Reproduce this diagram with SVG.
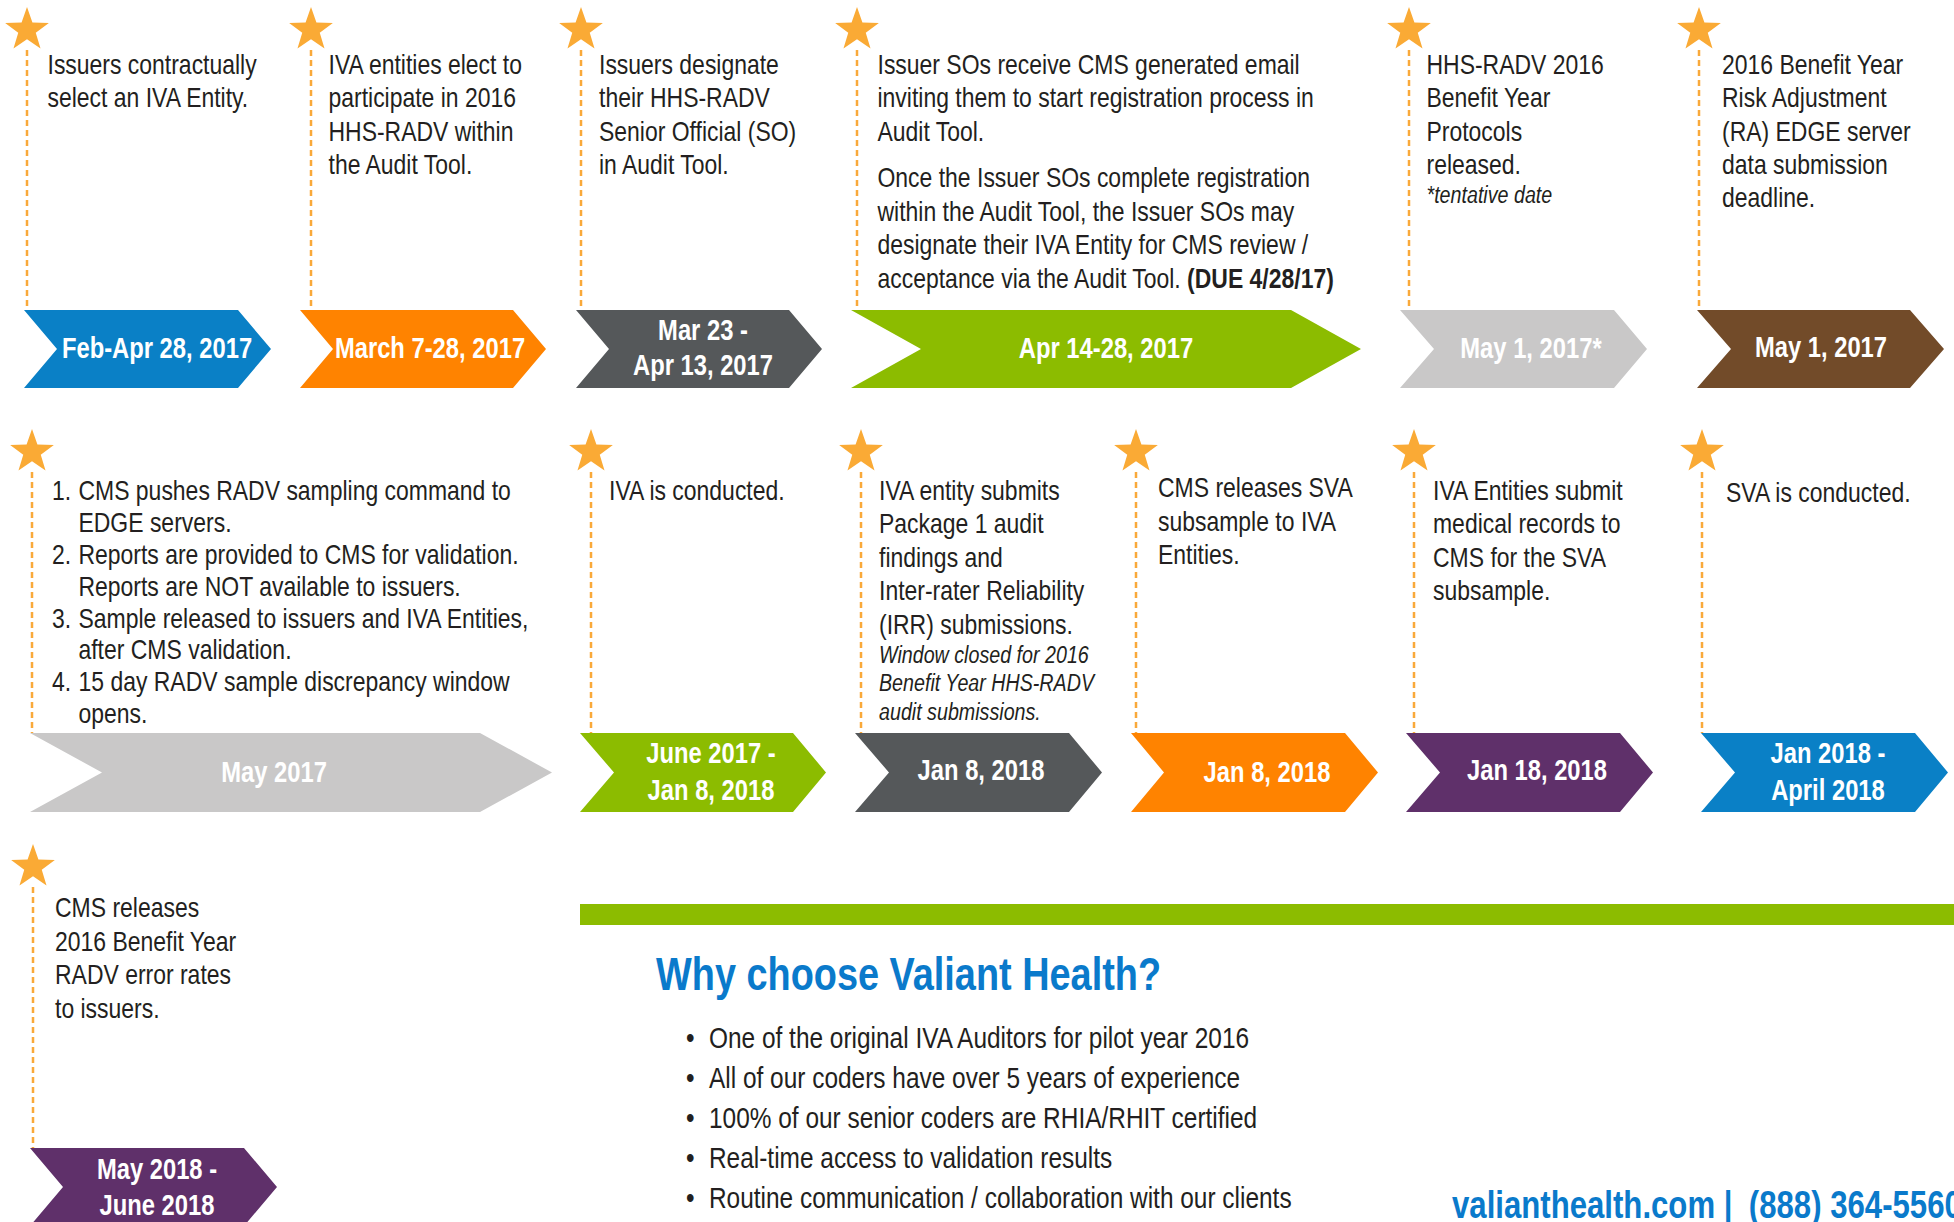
<svg xmlns="http://www.w3.org/2000/svg" xmlns:xlink="http://www.w3.org/1999/xlink" width="1954" height="1222" viewBox="0 0 1954 1222">
<defs>
<style>
.t{font-family:"Liberation Sans",Arial,sans-serif;font-size:28px;fill:#231F20}
.it{font-style:italic;font-size:24px}
.b{font-weight:bold}
.bul{font-size:29.8px}
.lbl{font-family:"Liberation Sans",Arial,sans-serif;font-weight:bold;font-size:29px;fill:#FFFFFF;text-anchor:middle}
.dash{stroke:#F9A93A;stroke-width:2.5;stroke-dasharray:6 4;fill:none}
.star{fill:#FAAA35}
.blue{fill:#0A80C6}.orange{fill:#FF8300}.gray{fill:#55585A}.green{fill:#8CBC00}.lgray{fill:#C9C8C8}.brown{fill:#724B29}.purple{fill:#5F306A}
.h{font-family:"Liberation Sans",Arial,sans-serif;font-weight:bold;fill:#0A7ACB}
</style>
<path id="star" d="M0,-23 L5.41,-7.44 L21.87,-7.11 L8.75,2.84 L13.52,18.61 L0,9.2 L-13.52,18.61 L-8.75,2.84 L-21.87,-7.11 L-5.41,-7.44 Z"/>
</defs>
<rect width="1954" height="1222" fill="#FFFFFF"/>

<g id="connectors">
<line class="dash" x1="27" y1="50" x2="27" y2="310"/>
<line class="dash" x1="311" y1="50" x2="311" y2="310"/>
<line class="dash" x1="581" y1="50" x2="581" y2="310"/>
<line class="dash" x1="857" y1="50" x2="857" y2="310"/>
<line class="dash" x1="1409" y1="50" x2="1409" y2="310"/>
<line class="dash" x1="1699" y1="50" x2="1699" y2="310"/>
<line class="dash" x1="32" y1="472" x2="32" y2="733"/>
<line class="dash" x1="591" y1="472" x2="591" y2="733"/>
<line class="dash" x1="861" y1="472" x2="861" y2="733"/>
<line class="dash" x1="1136" y1="472" x2="1136" y2="733"/>
<line class="dash" x1="1414" y1="472" x2="1414" y2="733"/>
<line class="dash" x1="1702" y1="472" x2="1702" y2="733"/>
<line class="dash" x1="33" y1="887" x2="33" y2="1148"/>
</g>

<g id="n1">
<use href="#star" class="star" x="27" y="30"/>
<g transform="translate(47.5 0) scale(0.82 1)"><text class="t"><tspan x="0" y="74">Issuers contractually</tspan><tspan x="0" y="107.3">select an IVA Entity.</tspan></text></g>
<polygon class="blue" points="24,310 238,310 271,349 238,388 24,388 57,349"/>
<g transform="translate(157 0) scale(0.82 1)"><text class="lbl" x="0" y="358">Feb-Apr 28, 2017</text></g>
</g>

<g id="n2">
<use href="#star" class="star" x="311" y="30"/>
<g transform="translate(328.5 0) scale(0.82 1)"><text class="t"><tspan x="0" y="74">IVA entities elect to</tspan><tspan x="0" y="107.3">participate in 2016</tspan><tspan x="0" y="140.6">HHS-RADV within</tspan><tspan x="0" y="174">the Audit Tool.</tspan></text></g>
<polygon class="orange" points="300,310 513,310 546,349 513,388 300,388 333,349"/>
<g transform="translate(430 0) scale(0.82 1)"><text class="lbl" x="0" y="358">March 7-28, 2017</text></g>
</g>

<g id="n3">
<use href="#star" class="star" x="581" y="30"/>
<g transform="translate(599 0) scale(0.82 1)"><text class="t"><tspan x="0" y="74">Issuers designate</tspan><tspan x="0" y="107.3">their HHS-RADV</tspan><tspan x="0" y="140.6">Senior Official (SO)</tspan><tspan x="0" y="174">in Audit Tool.</tspan></text></g>
<polygon class="gray" points="576,310 789,310 822,349 789,388 576,388 609,349"/>
<g transform="translate(703 0) scale(0.82 1)"><text class="lbl"><tspan x="0" y="340">Mar 23 -</tspan><tspan x="0" y="375">Apr 13, 2017</tspan></text></g>
</g>

<g id="n4">
<use href="#star" class="star" x="857" y="30"/>
<g transform="translate(877.5 0) scale(0.82 1)"><text class="t"><tspan x="0" y="74">Issuer SOs receive CMS generated email</tspan><tspan x="0" y="107.3">inviting them to start registration process in</tspan><tspan x="0" y="140.6">Audit Tool.</tspan><tspan x="0" y="187">Once the Issuer SOs complete registration</tspan><tspan x="0" y="221">within the Audit Tool, the Issuer SOs may</tspan><tspan x="0" y="254.5">designate their IVA Entity for CMS review /</tspan><tspan x="0" y="288">acceptance via the Audit Tool. <tspan class="b">(DUE 4/28/17)</tspan></tspan></text></g>
<polygon class="green" points="851,310 1291,310 1361,349 1291,388 851,388 921,349"/>
<g transform="translate(1106 0) scale(0.82 1)"><text class="lbl" x="0" y="358">Apr 14-28, 2017</text></g>
</g>

<g id="n5">
<use href="#star" class="star" x="1409" y="30"/>
<g transform="translate(1426.5 0) scale(0.82 1)"><text class="t"><tspan x="0" y="74">HHS-RADV 2016</tspan><tspan x="0" y="107.3">Benefit Year</tspan><tspan x="0" y="140.6">Protocols</tspan><tspan x="0" y="174">released.</tspan><tspan class="it" x="0" y="203">*tentative date</tspan></text></g>
<polygon class="lgray" points="1400,310 1614,310 1647,349 1614,388 1400,388 1434,349"/>
<g transform="translate(1531 0) scale(0.82 1)"><text class="lbl" x="0" y="358">May 1, 2017*</text></g>
</g>

<g id="n6">
<use href="#star" class="star" x="1699" y="30"/>
<g transform="translate(1722 0) scale(0.82 1)"><text class="t"><tspan x="0" y="74">2016 Benefit Year</tspan><tspan x="0" y="107.3">Risk Adjustment</tspan><tspan x="0" y="140.6">(RA) EDGE server</tspan><tspan x="0" y="174">data submission</tspan><tspan x="0" y="207.3">deadline.</tspan></text></g>
<polygon class="brown" points="1697,310 1910,310 1944,349 1910,388 1697,388 1731,349"/>
<g transform="translate(1821 0) scale(0.82 1)"><text class="lbl" x="0" y="357">May 1, 2017</text></g>
</g>

<g id="n7">
<use href="#star" class="star" x="32" y="452"/>
<g transform="translate(52 0) scale(0.82 1)"><text class="t"><tspan x="0" y="500">1.</tspan><tspan x="32.3" y="500">CMS pushes RADV sampling command to</tspan><tspan x="32.3" y="532">EDGE servers.</tspan><tspan x="0" y="564">2.</tspan><tspan x="32.3" y="564">Reports are provided to CMS for validation.</tspan><tspan x="32.3" y="596">Reports are NOT available to issuers.</tspan><tspan x="0" y="628">3.</tspan><tspan x="32.3" y="628">Sample released to issuers and IVA Entities,</tspan><tspan x="32.3" y="659">after CMS validation.</tspan><tspan x="0" y="691">4.</tspan><tspan x="32.3" y="691">15 day RADV sample discrepancy window</tspan><tspan x="32.3" y="723">opens.</tspan></text></g>
<polygon class="lgray" points="30,733 480,733 552,772.5 480,812 30,812 102,772.5"/>
<g transform="translate(274 0) scale(0.82 1)"><text class="lbl" x="0" y="782">May 2017</text></g>
</g>

<g id="n8">
<use href="#star" class="star" x="591" y="452"/>
<g transform="translate(609 0) scale(0.82 1)"><text class="t"><tspan x="0" y="500">IVA is conducted.</tspan></text></g>
<polygon class="green" points="580,733 793,733 826,772.5 793,812 580,812 614,772.5"/>
<g transform="translate(711 0) scale(0.82 1)"><text class="lbl"><tspan x="0" y="763">June 2017 -</tspan><tspan x="0" y="800">Jan 8, 2018</tspan></text></g>
</g>

<g id="n9">
<use href="#star" class="star" x="861" y="452"/>
<g transform="translate(879 0) scale(0.82 1)"><text class="t"><tspan x="0" y="500">IVA entity submits</tspan><tspan x="0" y="533.5">Package 1 audit</tspan><tspan x="0" y="567">findings and</tspan><tspan x="0" y="600.5">Inter-rater Reliability</tspan><tspan x="0" y="634">(IRR) submissions.</tspan><tspan class="it" x="0" y="663">Window closed for 2016</tspan><tspan class="it" x="0" y="691.5">Benefit Year HHS-RADV</tspan><tspan class="it" x="0" y="720">audit submissions.</tspan></text></g>
<polygon class="gray" points="855,733 1069,733 1102,772.5 1069,812 855,812 889,772.5"/>
<g transform="translate(981 0) scale(0.82 1)"><text class="lbl" x="0" y="780">Jan 8, 2018</text></g>
</g>

<g id="n10">
<use href="#star" class="star" x="1136" y="452"/>
<g transform="translate(1158 0) scale(0.82 1)"><text class="t"><tspan x="0" y="497.5">CMS releases SVA</tspan><tspan x="0" y="531">subsample to IVA</tspan><tspan x="0" y="564.5">Entities.</tspan></text></g>
<polygon class="orange" points="1131,733 1345,733 1378,772.5 1345,812 1131,812 1164,772.5"/>
<g transform="translate(1267 0) scale(0.82 1)"><text class="lbl" x="0" y="782">Jan 8, 2018</text></g>
</g>

<g id="n11">
<use href="#star" class="star" x="1414" y="452"/>
<g transform="translate(1433 0) scale(0.82 1)"><text class="t"><tspan x="0" y="500">IVA Entities submit</tspan><tspan x="0" y="533.5">medical records to</tspan><tspan x="0" y="567">CMS for the SVA</tspan><tspan x="0" y="600.5">subsample.</tspan></text></g>
<polygon class="purple" points="1406,733 1620,733 1653,772.5 1620,812 1406,812 1440,772.5"/>
<g transform="translate(1537 0) scale(0.82 1)"><text class="lbl" x="0" y="780">Jan 18, 2018</text></g>
</g>

<g id="n12">
<use href="#star" class="star" x="1702" y="452"/>
<g transform="translate(1726 0) scale(0.82 1)"><text class="t"><tspan x="0" y="502.5">SVA is conducted.</tspan></text></g>
<polygon class="blue" points="1701,733 1915,733 1948,772.5 1915,812 1701,812 1735,772.5"/>
<g transform="translate(1828 0) scale(0.82 1)"><text class="lbl"><tspan x="0" y="763">Jan 2018 -</tspan><tspan x="0" y="800">April 2018</tspan></text></g>
</g>

<g id="n13">
<use href="#star" class="star" x="33" y="867"/>
<g transform="translate(55 0) scale(0.82 1)"><text class="t"><tspan x="0" y="917.5">CMS releases</tspan><tspan x="0" y="951">2016 Benefit Year</tspan><tspan x="0" y="984.5">RADV error rates</tspan><tspan x="0" y="1018">to issuers.</tspan></text></g>
<polygon class="purple" points="30,1148 244,1148 277,1187 244,1226 30,1226 63,1187"/>
<g transform="translate(157 0) scale(0.82 1)"><text class="lbl"><tspan x="0" y="1179">May 2018 -</tspan><tspan x="0" y="1215">June 2018</tspan></text></g>
</g>

<g id="why">
<rect x="580" y="904" width="1374" height="21" fill="#8CBC00"/>
<g transform="translate(656 0) scale(0.82 1)"><text class="h" x="0" y="990" font-size="46.2">Why choose Valiant Health?</text></g>
<g transform="translate(686 0) scale(0.82 1)"><text class="t bul">
<tspan x="0" y="1048">•</tspan><tspan x="28" y="1048">One of the original IVA Auditors for pilot year 2016</tspan>
<tspan x="0" y="1088">•</tspan><tspan x="28" y="1088">All of our coders have over 5 years of experience</tspan>
<tspan x="0" y="1128">•</tspan><tspan x="28" y="1128">100% of our senior coders are RHIA/RHIT certified</tspan>
<tspan x="0" y="1168">•</tspan><tspan x="28" y="1168">Real-time access to validation results</tspan>
<tspan x="0" y="1208">•</tspan><tspan x="28" y="1208">Routine communication / collaboration with our clients</tspan>
</text></g>
<g transform="translate(1452 0) scale(0.82 1)"><text class="h" font-size="38"><tspan x="0" y="1218">valianthealth.com |</tspan><tspan x="362" y="1218">(888) 364-5560</tspan></text></g>
</g>
</svg>
